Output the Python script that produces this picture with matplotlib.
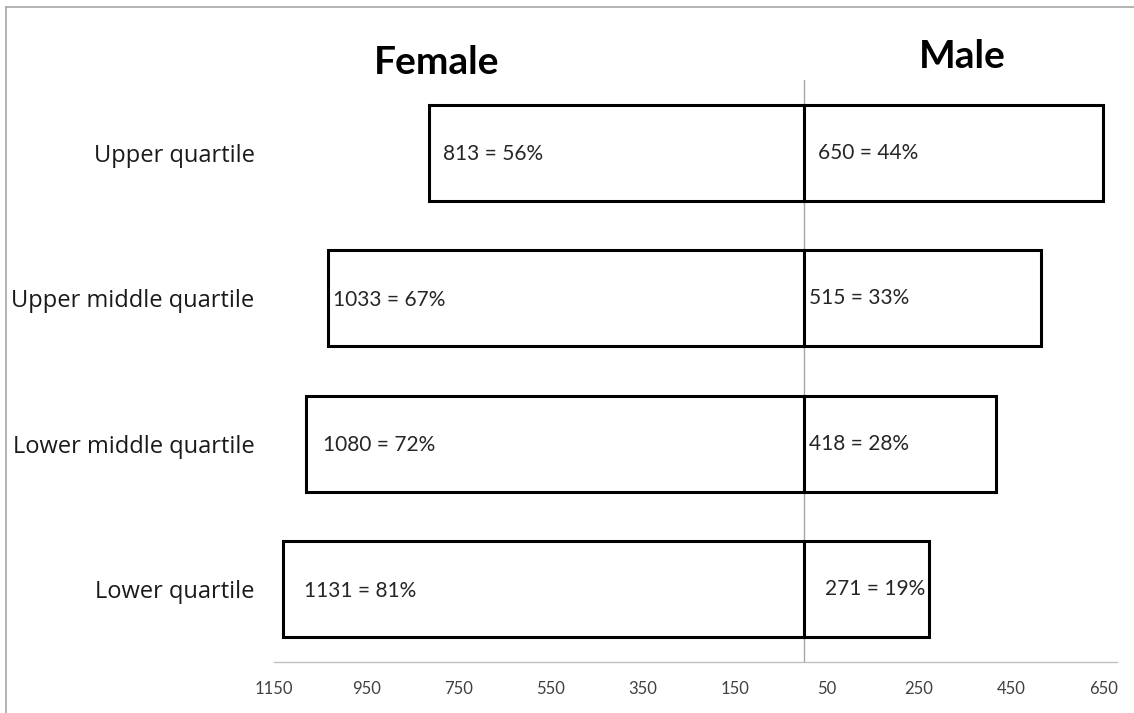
import matplotlib.pyplot as plt
from matplotlib.lines import Line2D

# Data
categories = ['Upper quartile', 'Upper middle quartile', 'Lower middle quartile', 'Lower quartile']
female = [813, 1033, 1080, 1131]
male = [650, 515, 418, 271]
female_pct = [56, 67, 72, 81]
male_pct = [44, 33, 28, 19]
tick_values = [-1150, -950, -750, -550, -350, -150, 50, 250, 450, 650]

# label nudges (points) from the bar end / zero line
female_nudge = [10, 4, 12, 15]
male_nudge = [10, 4, 4, 15]

label_font = ['Lato', 'DejaVu Sans']
cat_font = ['Open Sans', 'DejaVu Sans']

fig = plt.figure(figsize=(11.34, 7.13), dpi=100)
ax = fig.add_axes([274 / 1134, 51 / 713, (1117 - 274) / 1134, (662 - 80) / 713])

y = list(range(len(categories)))[::-1]
ax.barh(y, [-v for v in female], height=0.66, color='white', edgecolor='black', linewidth=2.2, zorder=2)
ax.barh(y, male, height=0.66, color='white', edgecolor='black', linewidth=2.2, zorder=2)
ax.axvline(0, color='#a6a6a6', linewidth=1, zorder=1)

for yi, f, m, fp, mp, fn, mn in zip(y, female, male, female_pct, male_pct, female_nudge, male_nudge):
    ax.annotate(f'{f} = {fp}%', xy=(-f, yi), xytext=(fn, -1), textcoords='offset points',
                ha='left', va='center', fontsize=15, family=label_font, color='#262626', zorder=3)
    ax.annotate(f'{m} = {mp}%', xy=(0, yi), xytext=(mn, 0), textcoords='offset points',
                ha='left', va='center', fontsize=15, family=label_font, color='#262626', zorder=3)

ax.set_xlim(-1148, 680)
ax.set_ylim(-0.5, len(categories) - 0.5)
ax.set_xticks(tick_values)
ax.set_xticklabels([str(abs(v)) for v in tick_values], family=label_font, fontsize=12, color='#404040')
ax.set_yticks(y)
ax.set_yticklabels(categories, family=cat_font, fontsize=17, color='#1a1a1a')
ax.tick_params(axis='x', length=0, pad=14)
ax.tick_params(axis='y', length=0, pad=14)

for s in ['top', 'right', 'left']:
    ax.spines[s].set_visible(False)
ax.spines['bottom'].set_color('#bfbfbf')
ax.spines['bottom'].set_linewidth(1)

fig.text(437 / 1134, 1 - 63 / 713, 'Female', ha='center', va='center', fontsize=28,
         fontweight='bold', family=label_font)
fig.text(962 / 1134, 1 - 56 / 713, 'Male', ha='center', va='center', fontsize=28,
         fontweight='bold', family=label_font)

# chart border (left and top edges visible)
fig.add_artist(Line2D([6 / 1134, 6 / 1134], [0, 1 - 7 / 713], color='#a6a6a6', linewidth=1.2))
fig.add_artist(Line2D([6 / 1134, 1], [1 - 7 / 713, 1 - 7 / 713], color='#a6a6a6', linewidth=1.2))

fig.savefig('out.png', dpi=100)
